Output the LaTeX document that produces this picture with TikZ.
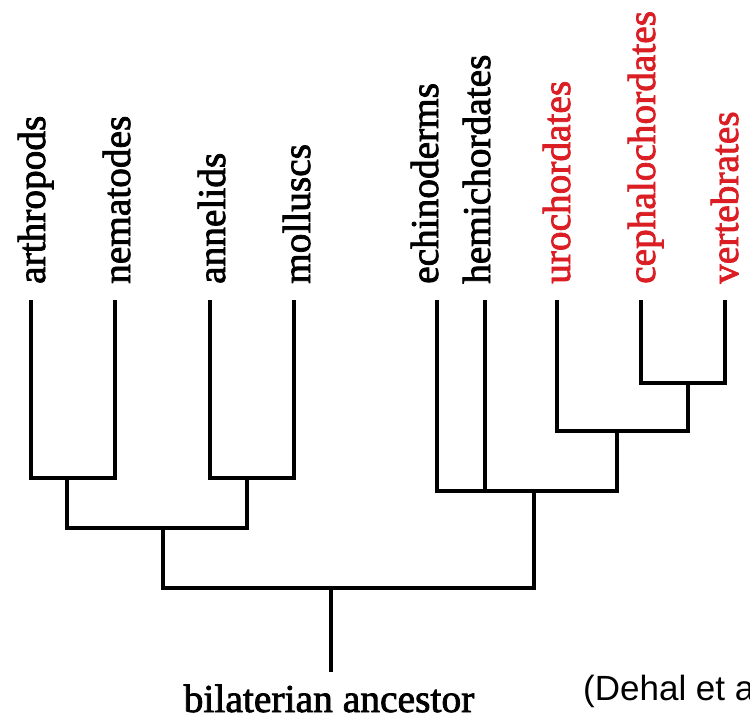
\documentclass[tikz,border=0pt]{standalone}
\usepackage{fontspec}
\setmainfont{Liberation Serif}
\newfontfamily\serifheavy[FakeBold=2]{Liberation Serif}
\newfontfamily\arialfont{Liberation Sans}
\definecolor{cladered}{RGB}{218,30,36}
\begin{document}
\begin{tikzpicture}[x=1pt,y=-1pt,
  branch/.style={line width=3.4pt, line join=miter, black},
  lab/.style={rotate=90, anchor=base west, inner sep=0pt, font=\serifheavy\fontsize{39.3}{40}\selectfont},
  chord/.style={lab, text=cladered}]
\useasboundingbox (0,0) rectangle (750,721);
% leaf tops
\coordinate (tA) at (31,300);
\coordinate (tN) at (115,300);
\coordinate (tAn) at (210,300);
\coordinate (tM) at (294,300);
\coordinate (tE) at (437,300);
\coordinate (tH) at (485,300);
\coordinate (tU) at (557,300);
\coordinate (tC) at (641,300);
\coordinate (tV) at (725,300);
% labels
\node[lab] (A) at (45,284) {arthropods};
\node[lab] (N) at (130,284) {nematodes};
\node[lab] (An) at (225,284) {annelids};
\node[lab] (M) at (310,284) {molluscs};
\node[lab] (E) at (438,284) {echinoderms};
\node[lab] (H) at (490,284) {hemichordates};
\node[chord] (U) at (570,284) {urochordates};
\node[chord] (C) at (655,284) {cephalochordates};
\node[chord] (V) at (738,284) {vertebrates};
% internal nodes
\coordinate (nAN) at (67,478);
\coordinate (nAM) at (247,478);
\coordinate (nP) at (163,528);
\coordinate (nCV) at (688,383);
\coordinate (nUCV) at (617,431);
\coordinate (nD) at (534,491);
\coordinate (nB) at (331,588);
\coordinate (root) at (331,672);
% branches
\draw[branch] (tA) |- (nAN) -| (tN);
\draw[branch] (tAn) |- (nAM) -| (tM);
\draw[branch] (nAN) |- (nP) -| (nAM);
\draw[branch] (tC) |- (nCV) -| (tV);
\draw[branch] (tU) |- (nUCV) -| (nCV);
\draw[branch] (tE) |- (nD) -| (nUCV);
\draw[branch] (tH) -- (tH |- nD);
\draw[branch] (nP) |- (nB) -| (nD);
\draw[branch] (nB) -- (root);
% root label
\node[inner sep=0pt, anchor=base, font=\serifheavy\fontsize{39.5}{40}\selectfont] (anc) at (329,712) {bilaterian ancestor};
\node[inner sep=0pt, anchor=base west, font=\arialfont\fontsize{35}{36}\selectfont] (ref) at (583,700) {(Dehal et a};
\end{tikzpicture}
\end{document}
